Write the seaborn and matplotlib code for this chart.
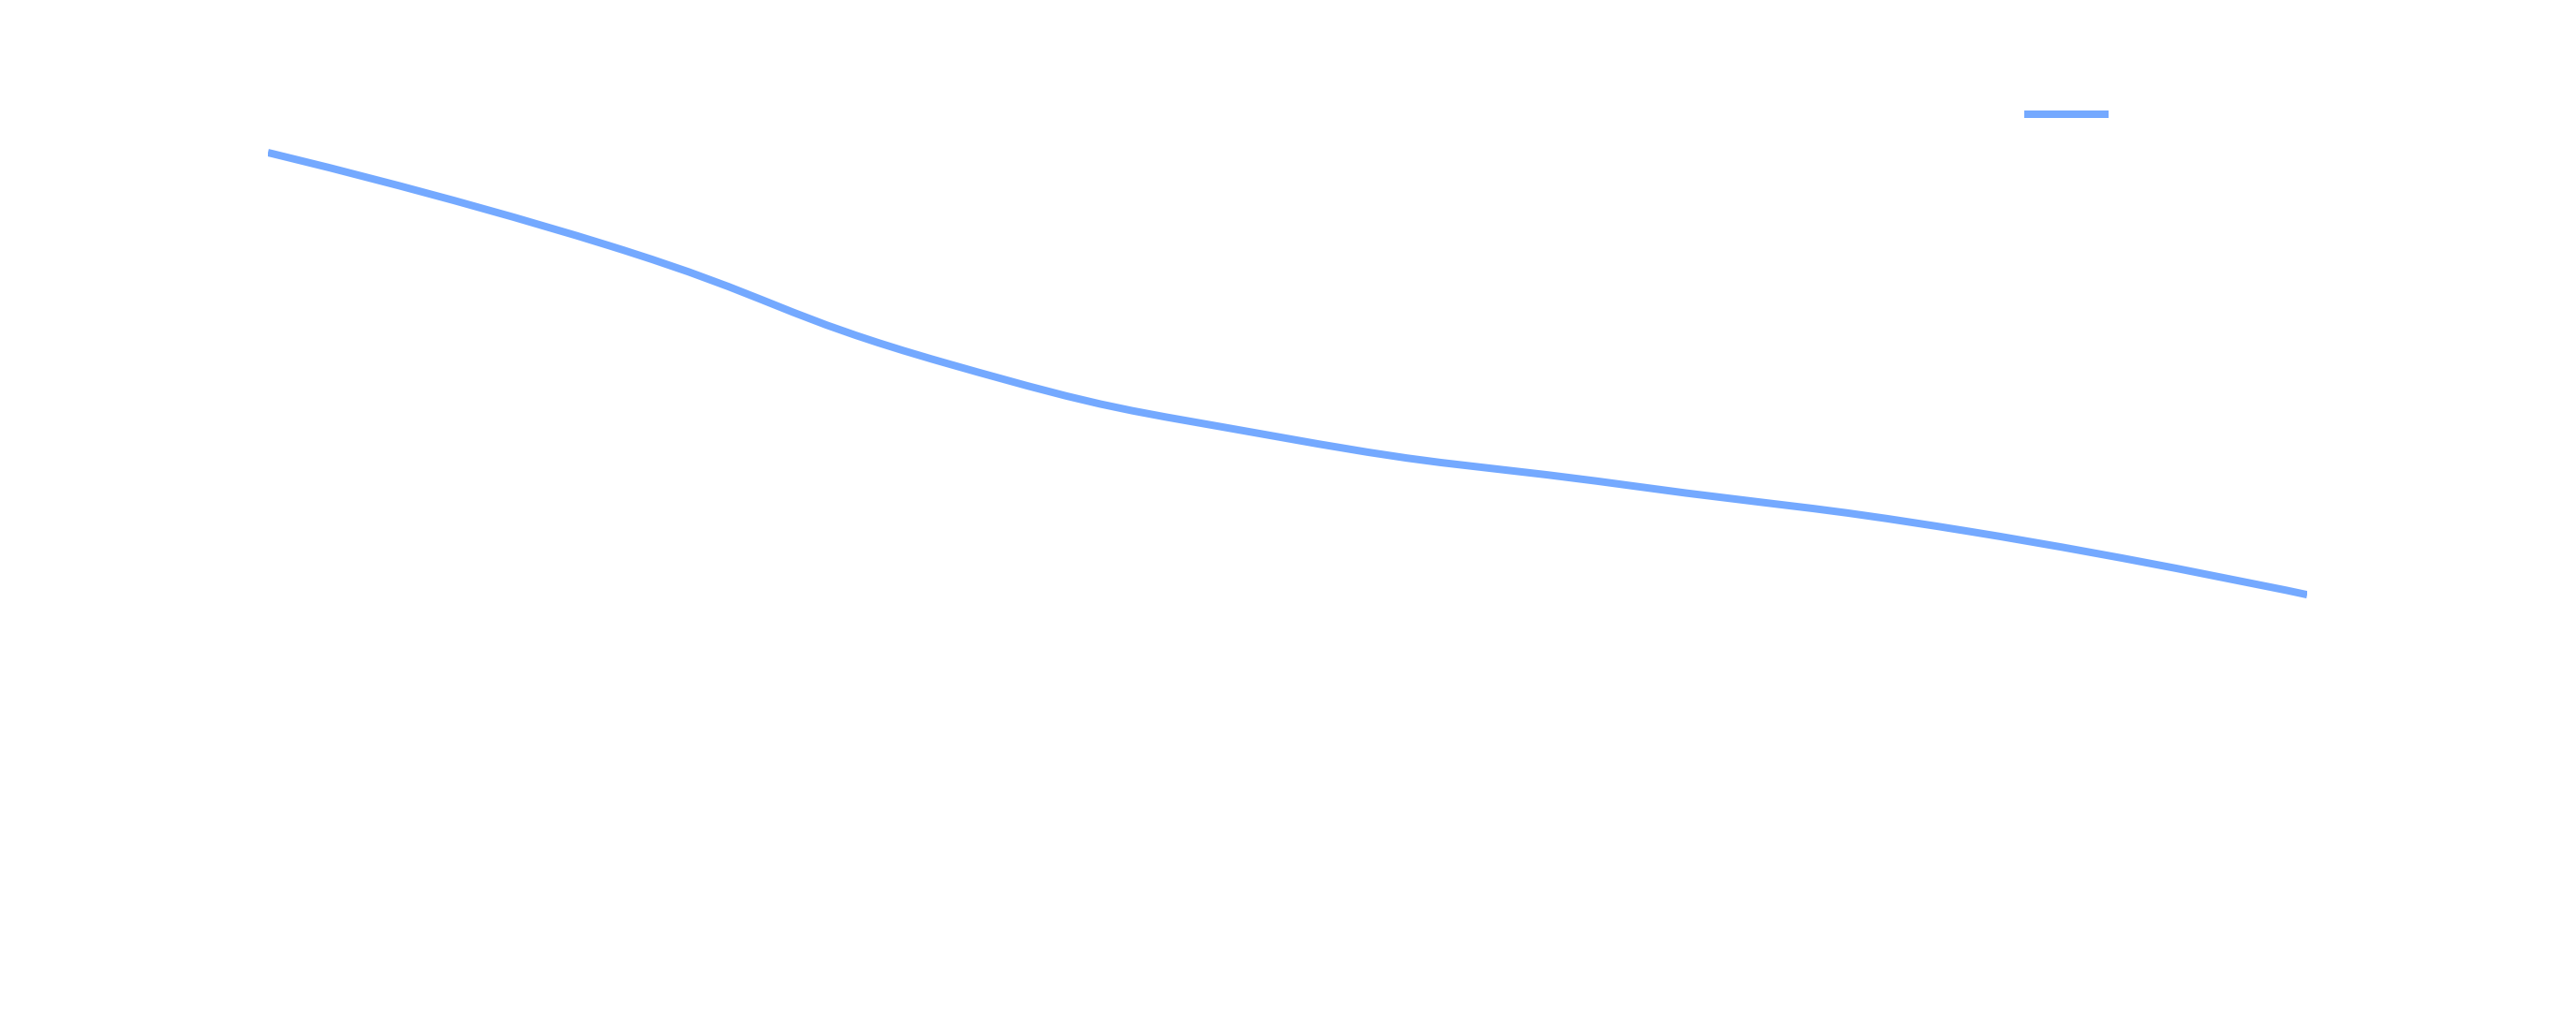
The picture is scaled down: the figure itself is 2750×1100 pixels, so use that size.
import numpy as np
import pandas as pd
import matplotlib
matplotlib.use("Agg")
import matplotlib.pyplot as plt
from matplotlib.path import Path
from matplotlib.patches import PathPatch
from matplotlib.lines import Line2D
import seaborn as sns

# ---- data (the axis text is not visible) ----
categories = ["1", "2", "3", "4", "5", "6", "7"]
values = [950, 835, 688, 595, 537, 480, 401]
series_name = ""
y_min, y_max = 0, 1000

LINE_COLOR = "#74a9ff"
W, H, DPI = 2750, 1100, 100

sns.set_theme(style="white")
plt.rcParams["font.family"] = ["DejaVu Sans"]

fig = plt.figure(figsize=(W / DPI, H / DPI), dpi=DPI, facecolor="white")
left, right, top, bottom = 286 / W, 2463 / W, 120 / H, 980 / H
ax = fig.add_axes([left, 1 - bottom, right - left, bottom - top])
ax.set_facecolor("white")

df = pd.DataFrame({"cat": categories, "value": values})
xpos = np.arange(len(df))
ax.set_xlim(xpos[0], xpos[-1])
ax.set_ylim(y_min, y_max)
ax.set_axis_off()
sns.despine(ax=ax, left=True, bottom=True)

# smooth cubic Bezier path through the data points (control points computed
# in screen space from neighbouring points, then mapped back to data space)
pts = ax.transData.transform(np.column_stack([xpos, df["value"].to_numpy(float)]))
smooth = 0.5
verts = [tuple(pts[0])]
codes = [Path.MOVETO]
cp0 = pts[0].copy()
n = len(pts)
for i in range(1, n):
    p, prev = pts[i], pts[i - 1]
    if i == n - 1:
        cp1 = p.copy()
        next_cp0 = None
    else:
        nxt = pts[i + 1]
        v = nxt - prev
        l0 = np.hypot(*(p - prev))
        l1 = np.hypot(*(nxt - p))
        r = l1 / (l0 + l1)
        next_cp0 = p + v * smooth * r
        next_cp0 = np.minimum(next_cp0, np.maximum(nxt, p))
        next_cp0 = np.maximum(next_cp0, np.minimum(nxt, p))
        v = next_cp0 - p
        cp1 = p - v * l0 / l1
        cp1 = np.minimum(cp1, np.maximum(prev, p))
        cp1 = np.maximum(cp1, np.minimum(prev, p))
        v = p - cp1
        next_cp0 = p + v * l1 / l0
    verts += [tuple(cp0), tuple(cp1), tuple(p)]
    codes += [Path.CURVE4, Path.CURVE4, Path.CURVE4]
    cp0 = next_cp0

data_verts = ax.transData.inverted().transform(np.array(verts))
patch = PathPatch(Path(data_verts, codes), facecolor="none",
                  edgecolor=LINE_COLOR, linewidth=5.76, capstyle="butt",
                  joinstyle="round")
ax.add_patch(patch)

# legend (handle only; its text is not visible in the reference)
handle = Line2D([], [], color=LINE_COLOR, linewidth=5.76, solid_capstyle="butt")
fs = 14
fig.legend(handles=[handle], labels=[series_name], loc="center left",
           bbox_to_anchor=(2161 / W, 1 - 123 / H), frameon=False,
           fontsize=fs, handlelength=(90 * 72 / DPI) / fs,
           handletextpad=0.4, borderpad=0, borderaxespad=0,
           labelcolor="white")

fig.savefig("out.png", dpi=DPI, facecolor="white")
